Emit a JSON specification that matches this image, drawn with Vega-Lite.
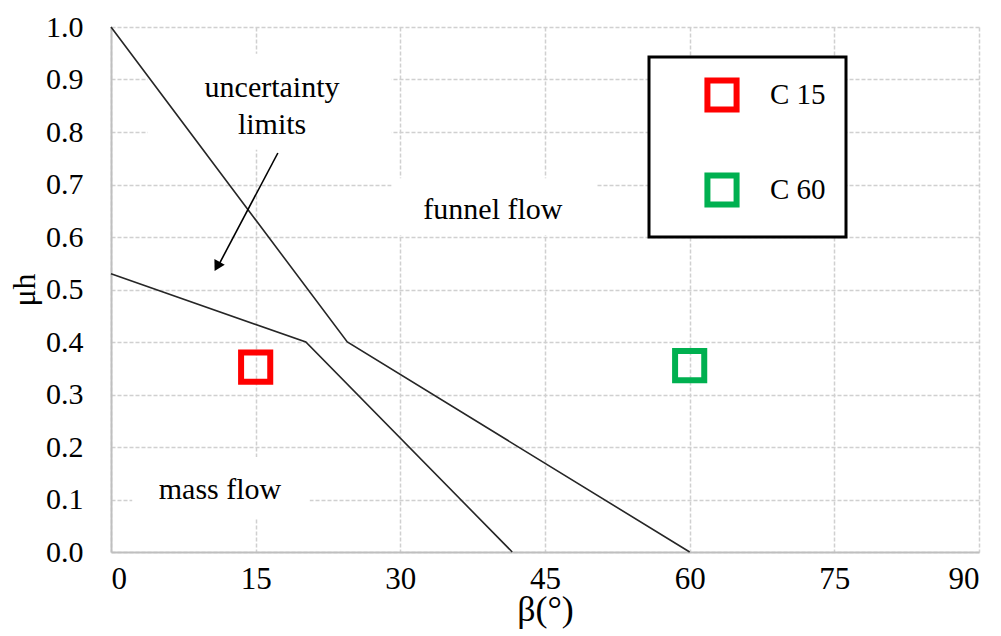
{
  "$schema": "https://vega.github.io/schema/vega-lite/v6.json",
  "width": 868,
  "height": 525,
  "autosize": {"type": "none"},
  "padding": {"left": 111, "top": 27, "right": 22, "bottom": 84},
  "background": "white",
  "config": {
    "view": {"stroke": null},
    "font": "Liberation Serif",
    "text": {"font": "Liberation Serif"},
    "axis": {
      "labelFont": "Liberation Serif",
      "titleFont": "Liberation Serif",
      "labelColor": "black",
      "titleColor": "black",
      "titleFontWeight": "normal",
      "ticks": false,
      "tickSize": 0,
      "domainColor": "#bfbfbf",
      "domainWidth": 2,
      "gridColor": "#d0d0d0",
      "gridWidth": 1.5,
      "gridDash": [4, 2]
    },
    "legend": {
      "strokeColor": "black",
      "strokeWidth": 3,
      "fillColor": "white",
      "labelFont": "Liberation Serif"
    }
  },
  "datasets": {
    "boxes": [
      {"name": "uncertainty", "x1": 3.8, "x2": 29.1, "y1": 0.766, "y2": 0.949},
      {"name": "funnel", "x1": 29.1, "x2": 50.4, "y1": 0.604, "y2": 0.712},
      {"name": "mass", "x1": 2.2, "x2": 20.6, "y1": 0.065, "y2": 0.181}
    ],
    "limits": [
      {"series": "upper", "order": 1, "beta": 0, "mu": 1.0},
      {"series": "upper", "order": 2, "beta": 24.5, "mu": 0.4},
      {"series": "upper", "order": 3, "beta": 60, "mu": 0.0},
      {"series": "lower", "order": 1, "beta": 0, "mu": 0.53},
      {"series": "lower", "order": 2, "beta": 20.2, "mu": 0.4},
      {"series": "lower", "order": 3, "beta": 41.6, "mu": 0.0}
    ],
    "arrow": [
      {"order": 1, "beta": 17.3, "mu": 0.76},
      {"order": 2, "beta": 11.2, "mu": 0.548}
    ],
    "arrowhead": [
      {"beta": 11.0, "mu": 0.544}
    ],
    "samples": [
      {"sample": "C 15", "beta": 15, "mu": 0.352},
      {"sample": "C 60", "beta": 60, "mu": 0.355}
    ],
    "labels": [
      {"text": "uncertainty", "beta": 16.7, "mu": 0.884},
      {"text": "limits", "beta": 16.7, "mu": 0.813},
      {"text": "funnel flow", "beta": 39.6, "mu": 0.651},
      {"text": "mass flow", "beta": 11.3, "mu": 0.118}
    ]
  },
  "encoding": {
    "x": {
      "field": "beta",
      "type": "quantitative",
      "scale": {"domain": [0, 90], "nice": false, "zero": false},
      "axis": {
        "title": "β(°)",
        "values": [0, 15, 30, 45, 60, 75, 90],
        "labelFontSize": 31,
        "labelPadding": 12,
        "titleFontSize": 36,
        "titlePadding": -2
      }
    },
    "y": {
      "field": "mu",
      "type": "quantitative",
      "scale": {"domain": [0, 1], "nice": false, "zero": false},
      "axis": {
        "title": "μh",
        "values": [0, 0.1, 0.2, 0.3, 0.4, 0.5, 0.6, 0.7, 0.8, 0.9, 1.0],
        "format": ".1f",
        "labelFontSize": 30,
        "labelPadding": 28,
        "titleFontSize": 32,
        "titlePadding": 4
      }
    }
  },
  "layer": [
    {
      "data": {"name": "boxes"},
      "mark": {"type": "rect", "fill": "white", "stroke": null},
      "encoding": {
        "x": {"field": "x1", "type": "quantitative"},
        "x2": {"field": "x2"},
        "y": {"field": "y1", "type": "quantitative"},
        "y2": {"field": "y2"}
      }
    },
    {
      "data": {"name": "limits"},
      "mark": {"type": "line", "color": "#262626", "strokeWidth": 1.6},
      "encoding": {
        "detail": {"field": "series"},
        "order": {"field": "order"}
      }
    },
    {
      "data": {"name": "arrow"},
      "mark": {"type": "line", "color": "black", "strokeWidth": 1.6},
      "encoding": {
        "order": {"field": "order"}
      }
    },
    {
      "data": {"name": "arrowhead"},
      "mark": {"type": "point", "shape": "triangle-up", "filled": true, "color": "black", "size": 140, "angle": 209, "opacity": 1},
      "encoding": {}
    },
    {
      "data": {"name": "samples"},
      "mark": {"type": "point", "shape": "square", "filled": false, "strokeWidth": 6, "size": 850, "opacity": 1},
      "encoding": {
        "color": {
          "field": "sample",
          "type": "nominal",
          "scale": {"domain": ["C 15", "C 60"], "range": ["#ff0000", "#00b050"]},
          "legend": {
            "title": null,
            "orient": "none",
            "legendX": 538,
            "legendY": 30,
            "padding": 20,
            "rowPadding": 41,
            "symbolType": "square",
            "symbolSize": 850,
            "symbolStrokeWidth": 6,
            "symbolFillColor": "white",
            "symbolOffset": 35,
            "labelOffset": 30,
            "labelFont": "Liberation Serif",
            "labelFontSize": 29,
            "labelColor": "black",
            "labelExpr": "datum.label + '\u00a0\u00a0\u00a0'"
          }
        }
      }
    },
    {
      "data": {"name": "labels"},
      "mark": {"type": "text", "font": "Liberation Serif", "fontSize": 30, "color": "black", "align": "center", "baseline": "middle"},
      "encoding": {
        "text": {"field": "text", "type": "nominal"}
      }
    }
  ]
}
